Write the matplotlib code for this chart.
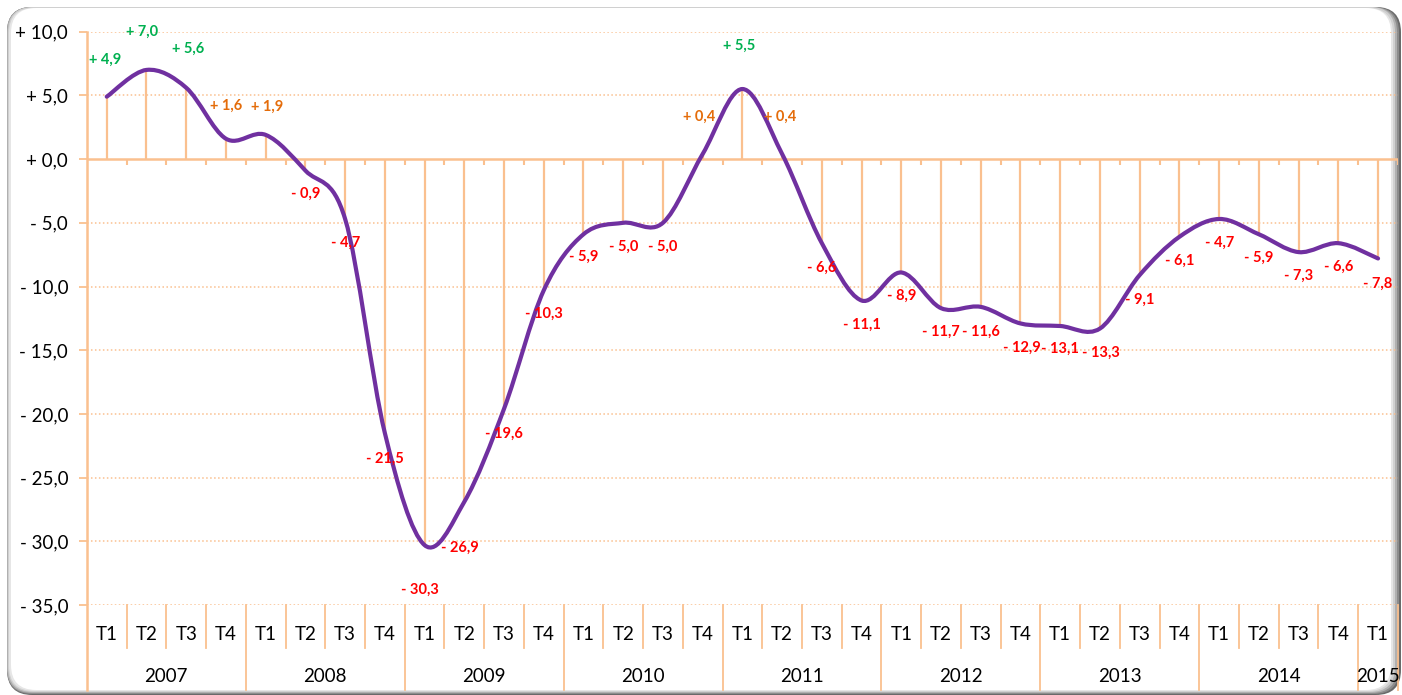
#!/usr/bin/env python3
"""Quarterly balance indicator 2007-T1 .. 2015-T1, smoothed line with drop lines.

Writes out.png (1402x695 px).
"""
import matplotlib
matplotlib.use("Agg")
import matplotlib.pyplot as plt  # noqa: E402
from matplotlib.patches import FancyBboxPatch, PathPatch  # noqa: E402
from matplotlib.path import Path  # noqa: E402
from matplotlib.ticker import FuncFormatter  # noqa: E402

YEARS = ["2007", "2008", "2009", "2010", "2011", "2012", "2013", "2014", "2015"]
QUARTERS_PER_YEAR = [4, 4, 4, 4, 4, 4, 4, 4, 1]
QUARTER_NAMES = ["T1", "T2", "T3", "T4"]

VALUES = [
    4.9, 7.0, 5.6, 1.6,
    1.9, -0.9, -4.7, -21.5,
    -30.3, -26.9, -19.6, -10.3,
    -5.9, -5.0, -5.0, 0.4,
    5.5, 0.4, -6.6, -11.1,
    -8.9, -11.7, -11.6, -12.9,
    -13.1, -13.3, -9.1, -6.1,
    -4.7, -5.9, -7.3, -6.6,
    -7.8,
]

# label placement relative to the point, image pixels (dy > 0 = below)
LABEL_DX = [-2, -4, 2, 0, 1, 0, 0, 0, -5, -4, 0, 0, 0, 0, 0, -4,
            -3, -2, 0, 0, 0, 0, 0, 1, 0, 1, 0, 0, 0, 0, 0, 0, 0]
LABEL_DY = [-37, -38, -39, -33, -28, 23, 24, 26, 45, 46, 25, 23, 23, 24, 24, -37,
            -43, -37, 25, 24, 23, 24, 25, 24, 23, 24, 25, 24, 24, 24, 24, 24, 25]

Y_TICKS = [10, 5, 0, -5, -10, -15, -20, -25, -30, -35]

W, H = 1402, 695
AX_LEFT, AX_RIGHT, AX_TOP, AX_BOTTOM = 86.9, 1397.9, 31.7, 605.0

ORANGE_LINE = "#FAC08F"
PURPLE = "#7030A0"
GREEN = "#00B050"
ORANGE_TXT = "#E46C0A"
RED = "#FF0000"
FONT = "Lato"


def _fx(px):
    return px / W


def _fy(py):
    return 1 - py / H


def _yfrac(py):
    # image pixel row -> axes fraction
    return (AX_BOTTOM - py) / (AX_BOTTOM - AX_TOP)


def _fmt_signed(v, _pos=None):
    sign = "-" if v < 0 else "+"
    return f"{sign} {abs(v):.1f}".replace(".", ",")


def _label_color(v):
    if v < 0:
        return RED
    if v < 3:
        return ORANGE_TXT
    return GREEN


def _smooth_path(xs, ys):
    """Catmull-Rom style Bezier through the points (Excel 'smoothed line')."""
    pts = list(zip(xs, ys))
    n = len(pts)
    verts = [pts[0]]
    codes = [Path.MOVETO]
    for i in range(n - 1):
        p0 = pts[i - 1] if i > 0 else pts[i]
        p1, p2 = pts[i], pts[i + 1]
        p3 = pts[i + 2] if i + 2 < n else pts[i + 1]
        c1 = (p1[0] + (p2[0] - p0[0]) / 6, p1[1] + (p2[1] - p0[1]) / 6)
        c2 = (p2[0] - (p3[0] - p1[0]) / 6, p2[1] - (p3[1] - p1[1]) / 6)
        verts += [c1, c2, p2]
        codes += [Path.CURVE4] * 3
    return Path(verts, codes)


def _frame(fig):
    # soft shadow, darker on the right
    layers = [
        (7, 7, 1401, 695, "#6a6a6a"),
        (7, 7, 1399, 694, "#8c8c8c"),
        (7, 7, 1397, 693, "#b0b0b0"),
        (8, 7, 1395, 692, "#d0d0d0"),
        (9, 8, 1393, 691, "#e6e6e6"),
        (11, 8, 1391, 690, "#ffffff"),
    ]
    for x0, y0, x1, y1, col in layers:
        fig.patches.append(FancyBboxPatch(
            (_fx(x0), _fy(y1)), _fx(x1 - x0), (y1 - y0) / H,
            boxstyle="round,pad=0,rounding_size=0.018",
            transform=fig.transFigure, facecolor=col, edgecolor="none",
            mutation_aspect=W / H, zorder=-5))


def main():
    plt.rcParams.update({"font.family": [FONT, "DejaVu Sans"]})
    fig = plt.figure(figsize=(W / 100, H / 100), dpi=100)
    fig.patch.set_facecolor("white")
    _frame(fig)

    ax = fig.add_axes([_fx(AX_LEFT), _fy(AX_BOTTOM),
                       (AX_RIGHT - AX_LEFT) / W, (AX_BOTTOM - AX_TOP) / H])
    ax.set_zorder(1)
    ax.set_facecolor("none")
    n = len(VALUES)
    xs = list(range(1, n + 1))
    ax.set_xlim(0.5, n + 0.5)
    ax.set_ylim(-35, 10)

    for s in ("top", "right", "bottom", "left"):
        ax.spines[s].set_visible(False)

    # dotted horizontal grid
    for t in Y_TICKS:
        if t != 0:
            ax.axhline(t, color=ORANGE_LINE, lw=1.1, ls=(0, (1, 1.6)), zorder=1)
    ax.axhline(0, color=ORANGE_LINE, lw=1.8, zorder=2)

    # tick marks on the zero line at category boundaries
    tick_len = 6 / ((AX_BOTTOM - AX_TOP) / 45.0)
    bounds = [b + 0.5 for b in range(1, n + 1)]
    ax.vlines(bounds, -tick_len, 0, color=ORANGE_LINE, lw=1.5, zorder=2)

    # drop lines
    ax.vlines(xs, 0, VALUES, color=ORANGE_LINE, lw=1.6, zorder=2)

    # smoothed line
    ax.add_patch(PathPatch(_smooth_path(xs, VALUES), facecolor="none",
                           edgecolor=PURPLE, lw=3.0, capstyle="round",
                           joinstyle="round", zorder=4))

    # data labels
    for x, v, dx, dy in zip(xs, VALUES, LABEL_DX, LABEL_DY):
        ax.annotate(_fmt_signed(v), xy=(x, v), xytext=(dx, -dy),
                    textcoords="offset pixels", ha="center", va="center",
                    fontsize=10.5, fontweight="bold", color=_label_color(v),
                    zorder=5)

    # y axis
    ax.set_yticks(Y_TICKS)
    ax.yaxis.set_major_formatter(FuncFormatter(_fmt_signed))
    ax.tick_params(axis="y", length=5.5, width=1.3, color=ORANGE_LINE,
                   labelsize=13.5, labelcolor="black", pad=8)
    ax.set_xticks([])

    xt = ax.get_xaxis_transform()
    # left axis line runs down through the category band
    ax.plot([0.5, 0.5], [1, _yfrac(690)], transform=xt, color=ORANGE_LINE,
            lw=1.8, clip_on=False, zorder=3)

    # two-level category axis
    year_bounds = []
    pos = 0
    for q in QUARTERS_PER_YEAR:
        pos += q
        year_bounds.append(pos + 0.5)
    for b in bounds:
        bottom = 690 if b in year_bounds else 648
        ax.plot([b, b], [0, _yfrac(bottom)], transform=xt, color=ORANGE_LINE,
                lw=1.3, clip_on=False, zorder=3)

    i = 0
    start = 1
    for year, q in zip(YEARS, QUARTERS_PER_YEAR):
        for k in range(q):
            ax.text(xs[i], _yfrac(634), QUARTER_NAMES[k], transform=xt,
                    ha="center", va="center", fontsize=13.5)
            i += 1
        ax.text(start + (q - 1) / 2, _yfrac(677), year, transform=xt,
                ha="center", va="center", fontsize=13.5)
        start += q

    fig.savefig("out.png", dpi=100)
    plt.close(fig)


if __name__ == "__main__":
    main()
